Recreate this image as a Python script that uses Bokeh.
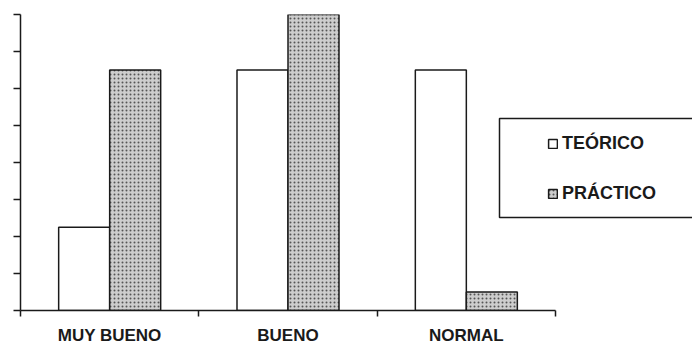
from bokeh.plotting import figure
from bokeh.models import (ColumnDataSource, Range1d, FixedTicker, BoxAnnotation,
                          Legend, LegendItem)
from bokeh.transform import dodge
from bokeh.embed import file_html
from bokeh.resources import INLINE

# --- data -------------------------------------------------------------
categories = ["MUY BUENO", "BUENO", "NORMAL"]
teorico = [9, 26, 26]
practico = [26, 32, 2]
series_labels = ["TEÓRICO", "PRÁCTICO"]
y_ticks = [0, 4, 8, 12, 16, 20, 24, 28, 32]

# --- layout constants -------------------------------------------------
W, H = 692, 347
LEFT, TOP, BOTTOM = 20, 14, 37
AXIS_PX = 535                       # pixel length of the category axis
n = len(categories)
x_end = n * (W - LEFT) / AXIS_PX    # frame runs to the right edge, axis stops at n
bar_w = 0.286
FONT = "Liberation Sans"
INK = "#1a1a1a"

centers = [i + 0.5 for i in range(n)]
source = ColumnDataSource(dict(x=centers, cat=categories,
                               teorico=teorico, practico=practico))

p = figure(width=W, height=H, x_range=Range1d(0, x_end),
           y_range=Range1d(y_ticks[0], y_ticks[-1]),
           min_border_left=LEFT, min_border_right=0,
           min_border_top=TOP, min_border_bottom=BOTTOM,
           output_backend="svg", toolbar_location=None)
p.outline_line_color = None
p.xgrid.visible = False
p.ygrid.visible = False
p.background_fill_color = "white"
p.border_fill_color = "white"

r_teo = p.vbar(x=dodge("x", -bar_w / 2, range=p.x_range), top="teorico",
               width=bar_w, source=source, fill_color="white",
               line_color=INK, line_width=1.5)
r_pra = p.vbar(x=dodge("x", bar_w / 2, range=p.x_range), top="practico",
               width=bar_w, source=source, fill_color="#cdcdcd",
               hatch_pattern="dot", hatch_scale=4, hatch_weight=1.7,
               hatch_color="#555555", line_color=INK, line_width=1.5)

# x axis: labels at category centres, short ticks at category boundaries
xa = p.xaxis[0]
xa.bounds = (0, n)
xa.ticker = FixedTicker(ticks=centers, minor_ticks=list(range(n + 1)))
xa.major_label_overrides = {c: lab for c, lab in zip(centers, categories)}
xa.major_tick_in = 0
xa.major_tick_out = 0
xa.minor_tick_in = 0
xa.minor_tick_out = 6
xa.minor_tick_line_color = INK
xa.minor_tick_line_width = 1.5
xa.axis_line_color = INK
xa.axis_line_width = 1.5
xa.major_label_standoff = 9
xa.major_label_text_line_height = 1.0
xa.major_label_text_font = FONT
xa.major_label_text_font_style = "bold"
xa.major_label_text_font_size = "17px"
xa.major_label_text_color = INK

# y axis: ticks only, blank labels
ya = p.yaxis[0]
ya.ticker = FixedTicker(ticks=y_ticks)
ya.major_label_overrides = {t: "" for t in y_ticks}
ya.major_label_standoff = 0
ya.major_tick_in = 0
ya.major_tick_out = 7
ya.major_tick_line_color = INK
ya.major_tick_line_width = 1.5
ya.minor_tick_line_color = None
ya.axis_line_color = INK
ya.axis_line_width = 1.5

# legend frame (open on the right, runs off the page)
box = BoxAnnotation(left=499, right=W + 20, top=118, bottom=217,
                    left_units="canvas", right_units="canvas",
                    top_units="canvas", bottom_units="canvas",
                    fill_color="white", fill_alpha=1.0,
                    line_color=INK, line_width=1.5, line_alpha=1.0)
p.add_layout(box)

legend = Legend(items=[LegendItem(label=series_labels[0], renderers=[r_teo]),
                       LegendItem(label=series_labels[1], renderers=[r_pra])],
                location=(527, 106), padding=0, margin=0, spacing=29,
                glyph_width=11, glyph_height=11, label_height=21,
                label_standoff=4, label_text_font=FONT,
                label_text_font_style="bold", label_text_font_size="18px",
                label_text_color=INK, border_line_alpha=0,
                background_fill_alpha=0)
p.add_layout(legend)

open("out.html", "w").write(file_html(p, INLINE))
